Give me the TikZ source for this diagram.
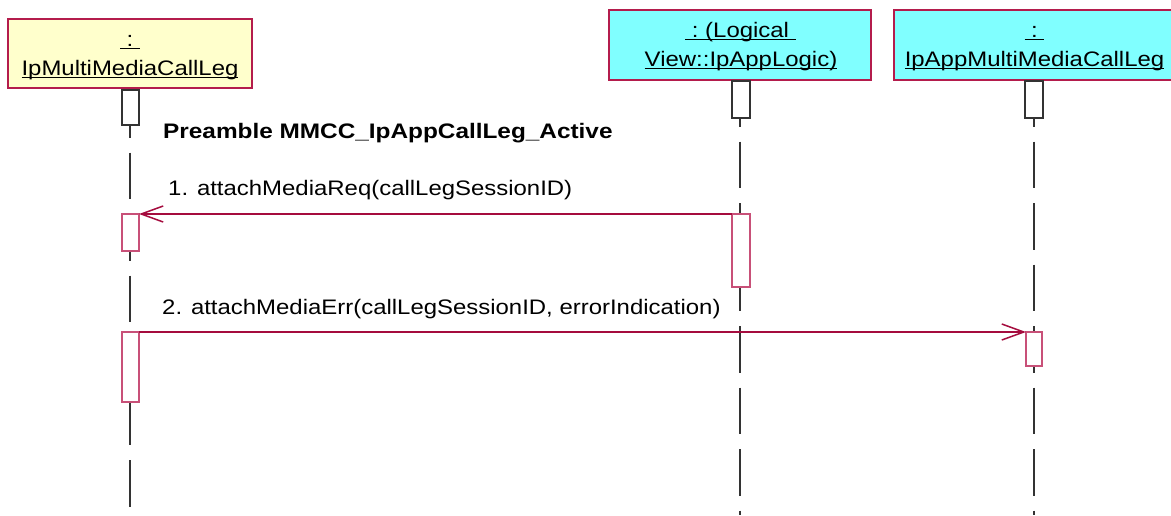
\documentclass[tikz,border=0pt]{standalone}
\usepackage{fontspec}
\setmainfont{Liberation Sans}
\newfontfamily\wfont[FakeStretch=1.14]{Liberation Sans}
\newfontfamily\prefont[FakeStretch=1.16]{Liberation Sans}
\usetikzlibrary{arrows.meta}
\definecolor{boxborder}{RGB}{180,28,76}
\definecolor{msgred}{RGB}{165,12,62}
\definecolor{actpinkc}{RGB}{200,80,120}
\definecolor{objyellow}{RGB}{255,255,204}
\definecolor{objcyan}{RGB}{128,255,255}
\newcommand\myul[1]{\setbox0=\hbox{#1}\rlap{\copy0}\rule[-3.2pt]{\wd0}{1.5pt}}
\tikzset{
  objbox/.style={draw=boxborder, line width=1.2pt, inner sep=0pt, outer sep=0pt, anchor=north west},
  yellowobj/.style={objbox, fill=objyellow},
  cyanobj/.style={objbox, fill=objcyan},
  objtext/.style={inner sep=0pt, anchor=base, font=\wfont\fontsize{21}{26}\selectfont},
  lifeline/.style={draw=black!80, line width=1.1pt, dash pattern=on 46.5pt off 15pt},
  actblack/.style={draw=black!80, fill=white, line width=1.1pt, inner sep=0pt, outer sep=0pt, anchor=north west},
  actpink/.style={actblack, draw=actpinkc},
  msgarrow/.style={draw=msgred, line width=1.2pt, -{Straight Barb[length=22pt,width=16pt,line width=1.5pt]}},
  msgtext/.style={inner sep=0pt, anchor=base west, font=\wfont\fontsize{21}{26}\selectfont},
  pretext/.style={inner sep=0pt, anchor=base west, font=\prefont\bfseries\fontsize{21}{26}\selectfont}
}
\begin{document}
\begin{tikzpicture}[x=1pt,y=-1pt]
\clip (0,0) rectangle (1171,515);
\fill[white] (0,0) rectangle (1171,515);
% object boxes
\node[yellowobj, minimum width=244pt, minimum height=69pt] (obj1) at (8,19) {};
\node[cyanobj, minimum width=262pt, minimum height=70pt] (obj2) at (609,10) {};
\node[cyanobj, minimum width=280pt, minimum height=70pt] (obj3) at (894,10) {};
% object texts
\node[objtext] (t1a) at (130,46) {\myul{\ :\ }};
\node[objtext] (t1b) at (130,75) {\myul{IpMultiMediaCallLeg}};
\node[objtext] (t2a) at (740.5,37) {\myul{\ :\ (Logical\ }};
\node[objtext] (t2b) at (741,66) {\myul{View::IpAppLogic)}};
\node[objtext] (t3a) at (1034.5,37) {\myul{\ :\ }};
\node[objtext] (t3b) at (1034.5,66) {\myul{IpAppMultiMediaCallLeg}};
% lifelines
\coordinate (l1end) at (130,515);
\coordinate (l2end) at (740,515);
\coordinate (l3top) at (1034,80);
\coordinate (l3end) at (1034,515);
\draw[lifeline, dash phase=58.5pt] (obj1.south) -- (l1end);
\draw[lifeline] (obj2.south) -- (l2end);
\draw[lifeline] (l3top) -- (l3end);
% activation boxes
\node[actblack, minimum width=17pt, minimum height=35pt] (act1a) at (122,90) {};
\node[actblack, minimum width=18pt, minimum height=37pt] (act2a) at (732,81) {};
\node[actblack, minimum width=18pt, minimum height=37pt] (act3a) at (1025,81) {};
\node[actpink, minimum width=17pt, minimum height=37pt] (act1b) at (122,214) {};
\node[actpink, minimum width=18pt, minimum height=73pt] (act2b) at (732,214) {};
\node[actpink, minimum width=17pt, minimum height=70pt] (act1c) at (122,332) {};
\node[actpink, minimum width=16pt, minimum height=34pt] (act3b) at (1026,332) {};
% messages
\draw[msgarrow] (act2b.north west) -- (act1b.north east);
\draw[msgarrow] (act1c.north east) -- (act3b.north west);
% texts
\node[pretext] (pre) at (163,138) {Preamble MMCC\_IpAppCallLeg\_Active};
\node[msgtext] (m1) at (168,195) {1. attachMediaReq(callLegSessionID)};
\node[msgtext] (m2) at (162,314) {2. attachMediaErr(callLegSessionID, errorIndication)};
\end{tikzpicture}
\end{document}
